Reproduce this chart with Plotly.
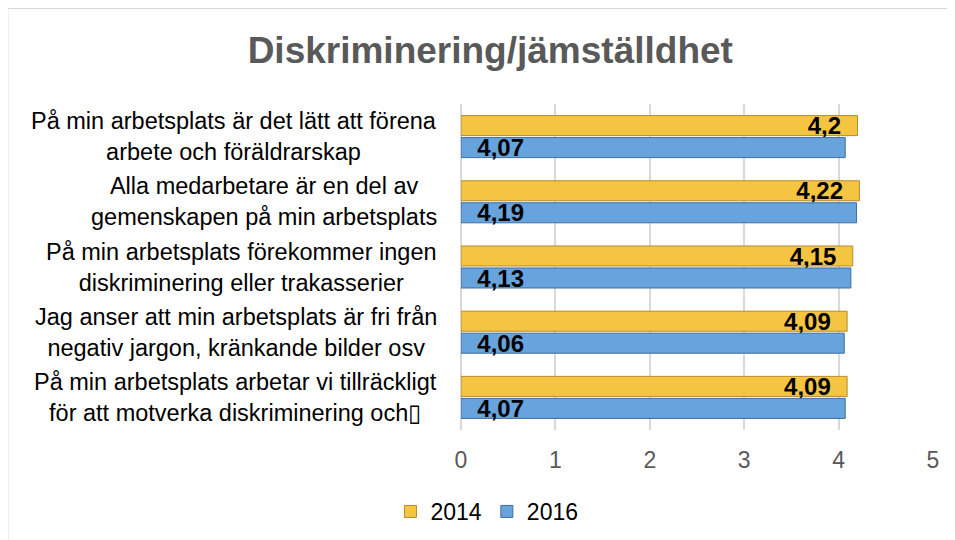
import plotly.graph_objects as go

# data
questions = [
    "På min arbetsplats är det lätt att förena<br>arbete och föräldrarskap",
    "Alla medarbetare är en del av<br>gemenskapen på min arbetsplats",
    "På min arbetsplats förekommer ingen<br>diskriminering eller trakasserier",
    "Jag anser att min arbetsplats är fri från<br>negativ jargon, kränkande bilder osv",
    "På min arbetsplats arbetar vi tillräckligt<br>för att motverka diskriminering och▯",
]
values_2014 = [4.2, 4.22, 4.15, 4.09, 4.09]
values_2016 = [4.07, 4.19, 4.13, 4.06, 4.07]
x_ticks = [0, 1, 2, 3, 4, 5]

NBSP = "\u00a0"
PAD = "<span style='color:rgba(0,0,0,0)'>0</span>"


def fmt(v):
    return str(v).replace(".", ",")


label_font = dict(family="Liberation Sans, Arial", size=24, color="black", weight="bold")

fig = go.Figure()

fig.add_trace(go.Bar(
    name="2014",
    y=questions, x=values_2014, orientation="h",
    marker=dict(color="#F5C542", line=dict(color="#B38B2C", width=1)),
    text=[fmt(v) + PAD for v in values_2014],
    textposition="inside", insidetextanchor="end",
    constraintext="none", cliponaxis=False,
    textfont=label_font,
))
fig.add_trace(go.Bar(
    name="2016",
    y=questions, x=values_2016, orientation="h",
    marker=dict(color="#67A3DC", line=dict(color="#3E6E9F", width=1)),
    text=[NBSP * 2 + fmt(v) for v in values_2016],
    textposition="inside", insidetextanchor="start",
    constraintext="none", cliponaxis=False,
    textfont=label_font,
))

# centred category labels
annotations = []
for q in questions:
    annotations.append(dict(
        x=0, xref="paper", y=q, yref="y",
        xanchor="right", xshift=-22, align="center",
        text=q, showarrow=False,
        font=dict(family="Liberation Sans, Arial", size=23.5, color="black"),
    ))

# page body adds an 8px offset, so margins are shifted by 8
fig.update_layout(
    width=955, height=540,
    margin=dict(l=453, r=30, t=96, b=118),
    paper_bgcolor="white", plot_bgcolor="white",
    barmode="group", bargap=0.325, bargroupgap=0.09,
    font=dict(family="Liberation Sans, Arial", color="#595959"),
    title=dict(
        text="<b>Diskriminering/jämställdhet</b>",
        x=0.505, xanchor="center", xref="container",
        y=0.922, yanchor="middle", yref="container",
        font=dict(size=37, color="#595959"),
    ),
    xaxis=dict(
        range=[0, 5], tickvals=x_ticks,
        gridcolor="#d9d9d9", gridwidth=1.5,
        zeroline=True, zerolinecolor="#d9d9d9", zerolinewidth=1.5,
        showline=False, ticks="", ticklabelstandoff=14,
        tickfont=dict(size=23, color="#595959"),
    ),
    yaxis=dict(
        autorange="reversed", showticklabels=False,
        showgrid=False, zeroline=False, showline=False,
    ),
    legend=dict(
        orientation="h", x=0.055, xanchor="center",
        y=-0.25, yanchor="middle",
        font=dict(size=23, color="black"),
    ),
    annotations=annotations,
    shapes=[dict(
        type="rect", xref="paper", yref="paper",
        x0=-0.961, x1=1.2, y0=-0.6, y1=1.2945,
        line=dict(color="#d9d9d9", width=2), layer="below",
    )],
)

fig.write_html("out.html")
